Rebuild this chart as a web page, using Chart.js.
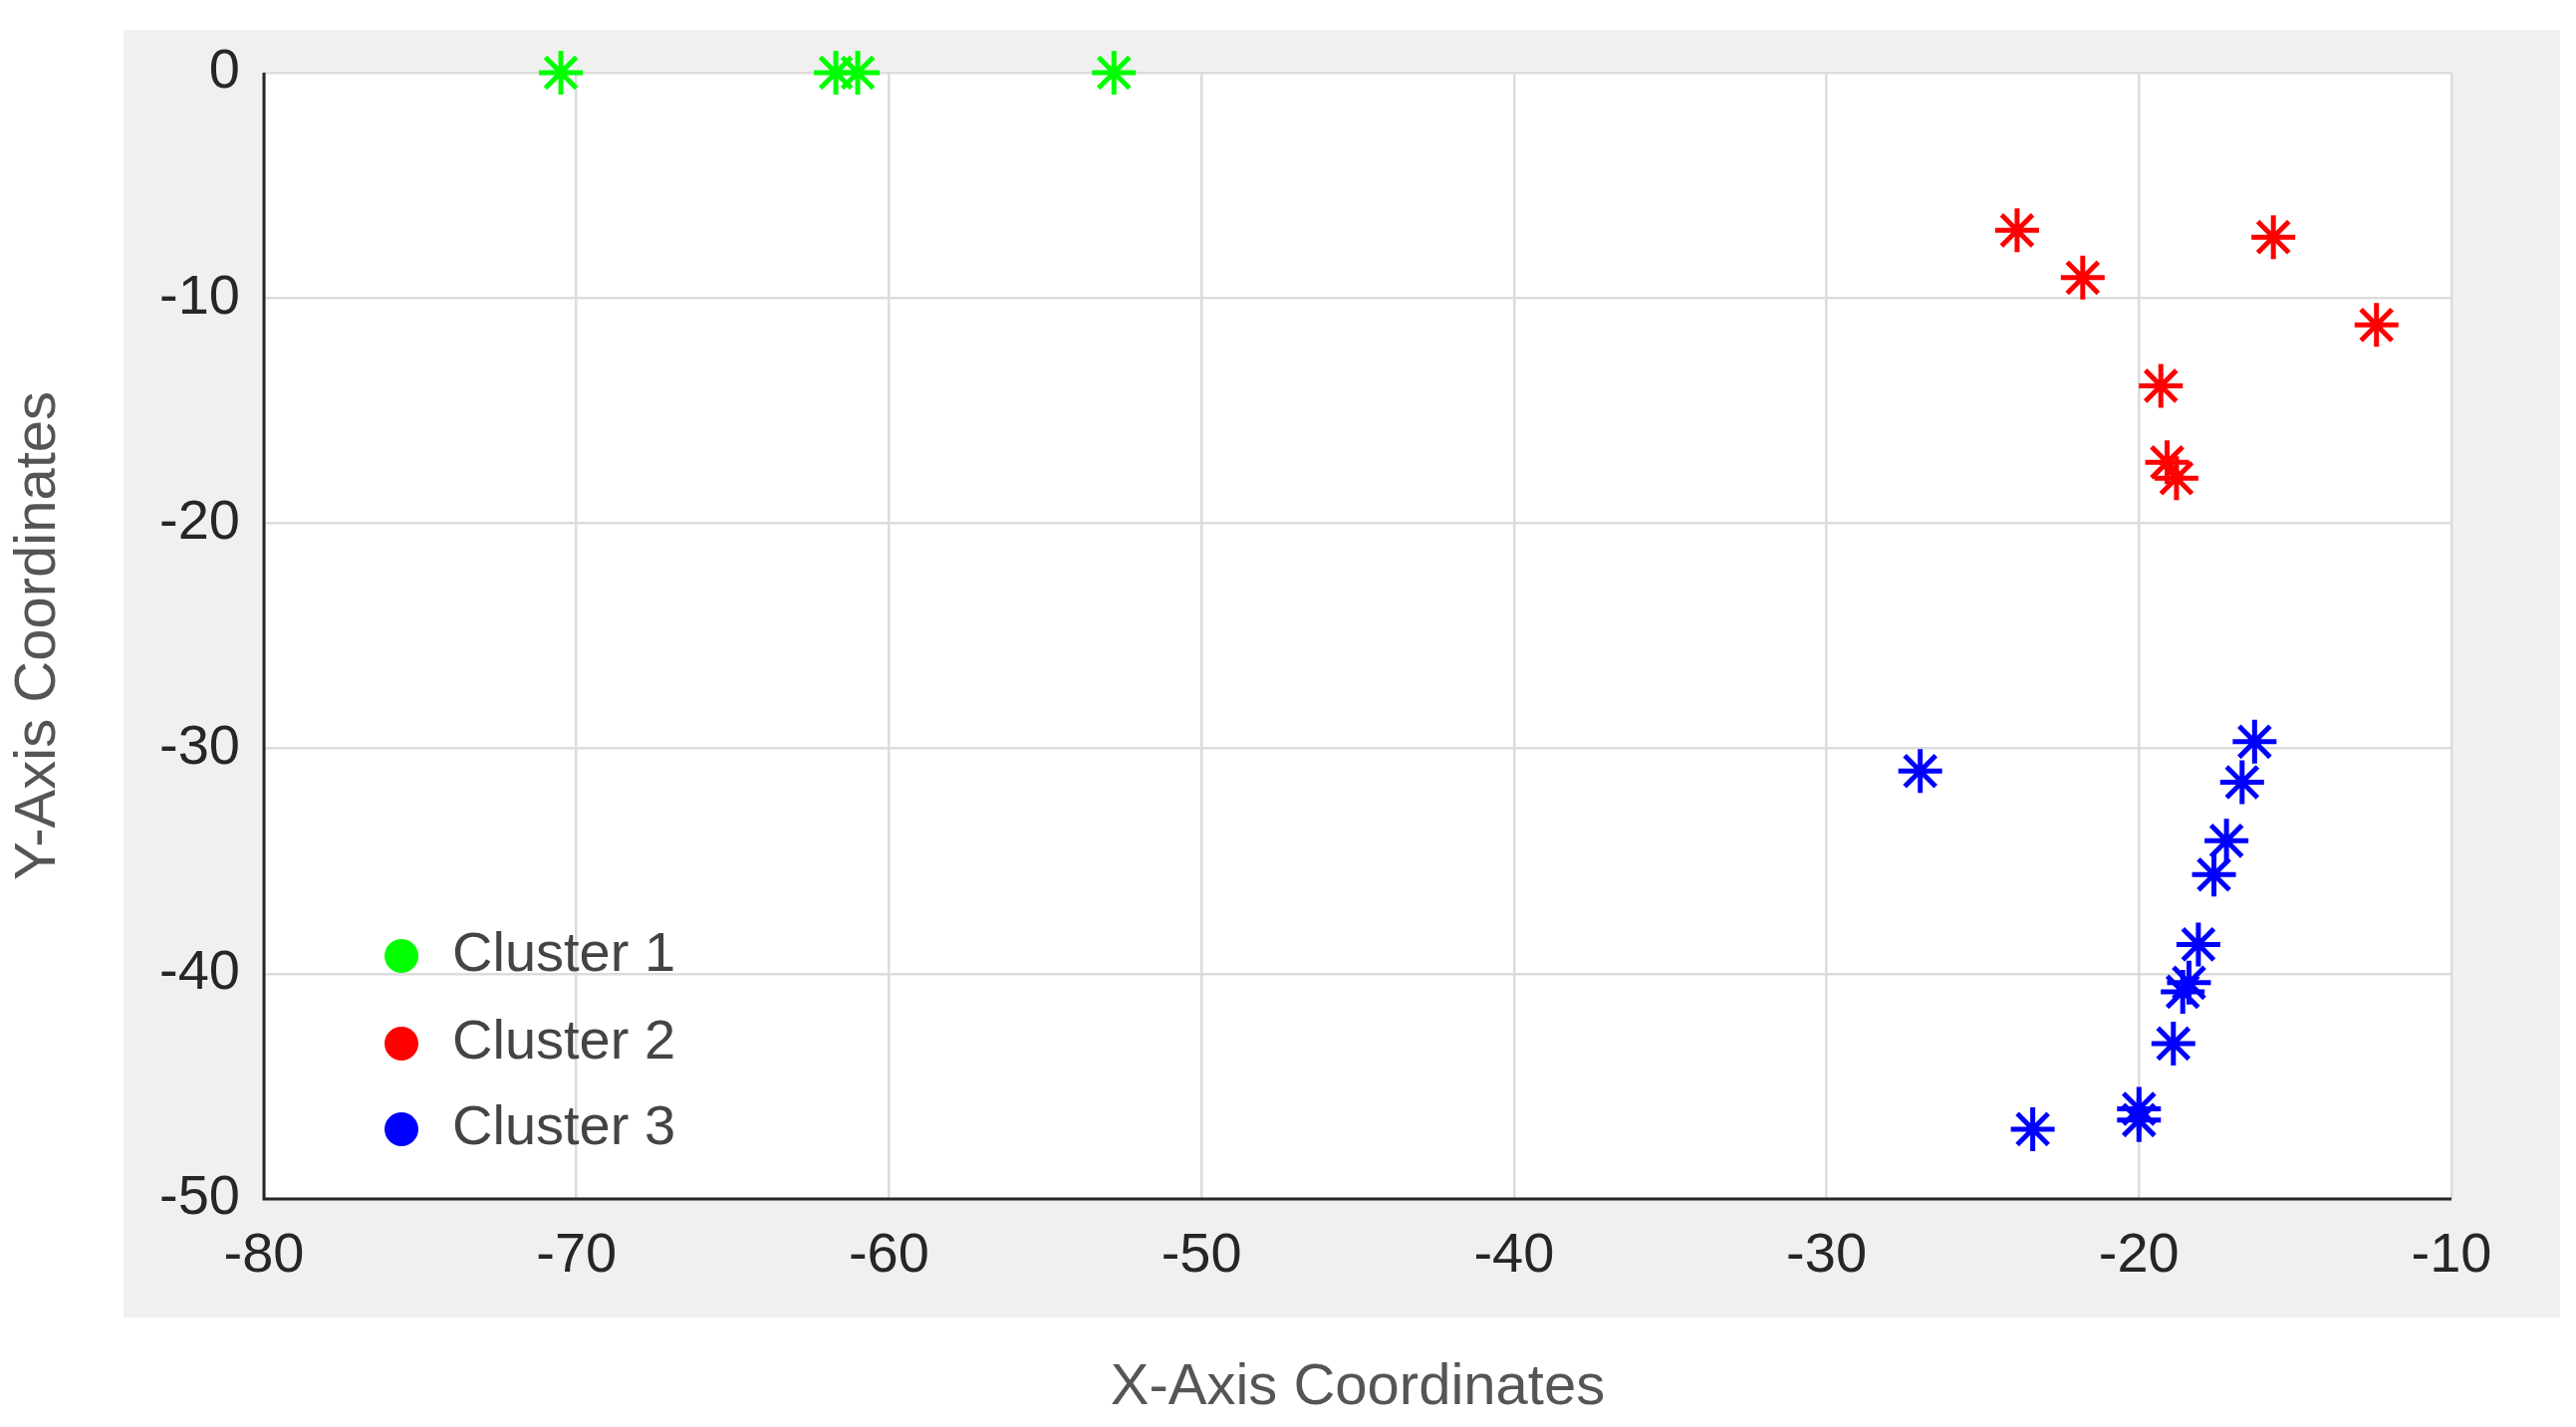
<!DOCTYPE html>
<html>
<head>
<meta charset="utf-8">
<script src="https://cdn.jsdelivr.net/npm/chart.js@4"></script>
<style>
  html, body { margin: 0; padding: 0; background: #fff; }
  #wrap { width: 2586px; height: 1433px; }
</style>
</head>
<body>
<div id="wrap"><canvas id="c"></canvas></div>
<script>
// data
const cluster1X = [-70.5, -61.7, -61.0, -52.8];
const cluster1Y = [0, 0, 0, 0];
const cluster2X = [-23.9, -21.8, -15.7, -12.4, -19.3, -19.1, -18.8];
const cluster2Y = [-7.0, -9.1, -7.3, -11.2, -13.9, -17.3, -18.0];
const cluster3X = [-27.0, -16.3, -16.7, -17.2, -17.6, -18.1, -18.4, -18.6, -18.9, -20.0, -20.0, -23.4];
const cluster3Y = [-31.0, -29.7, -31.5, -34.1, -35.6, -38.7, -40.4, -40.8, -43.1, -46.0, -46.5, -46.9];
const xTicks = [-80, -70, -60, -50, -40, -30, -20, -10];
const yTicks = [0, -10, -20, -30, -40, -50];
const labels = ['Cluster 1', 'Cluster 2', 'Cluster 3'];
const colors = ['#00ff00', '#ff0000', '#0000ff'];

function pts(xs, ys) { return xs.map((x, i) => ({ x: x, y: ys[i] })); }

const bgPlugin = {
  id: 'bg',
  beforeDraw(chart) {
    const ctx = chart.ctx, a = chart.chartArea;
    ctx.save();
    ctx.fillStyle = '#f0f0f0';
    ctx.fillRect(124, 30, 2446, 1293);
    ctx.fillStyle = '#ffffff';
    ctx.fillRect(a.left, a.top, a.right - a.left, a.bottom - a.top);
    ctx.restore();
  },
  afterDraw(chart) {
    const ctx = chart.ctx, a = chart.chartArea;
    ctx.save();
    // black axis lines left/bottom
    ctx.strokeStyle = '#262626';
    ctx.lineWidth = 3;
    ctx.beginPath();
    ctx.moveTo(a.left, a.top); ctx.lineTo(a.left, a.bottom); ctx.lineTo(a.right, a.bottom);
    ctx.stroke();
    // legend
    const ly = [960, 1048, 1134];
    ctx.font = '56px "Liberation Sans", Arial, sans-serif';
    ctx.textBaseline = 'middle';
    labels.forEach((l, i) => {
      ctx.fillStyle = colors[i];
      ctx.beginPath(); ctx.arc(403, ly[i], 17, 0, Math.PI * 2); ctx.fill();
      ctx.fillStyle = '#444';
      ctx.fillText(l, 454, ly[i]);
    });
    ctx.restore();
  }
};

const mk = (xs, ys, i) => ({
  label: labels[i],
  data: pts(xs, ys),
  clip: false,
  pointStyle: 'star',
  pointRadius: 22,
  pointBorderWidth: 5,
  borderColor: colors[i],
  backgroundColor: colors[i]
});

new Chart(document.getElementById('c'), {
  type: 'scatter',
  data: {
    datasets: [mk(cluster1X, cluster1Y, 0), mk(cluster2X, cluster2Y, 1), mk(cluster3X, cluster3Y, 2)]
  },
  options: {
    responsive: true,
    maintainAspectRatio: false,
    animation: false,
    layout: { padding: { top: 73, right: 125, left: 0, bottom: 0 } },
    plugins: { legend: { display: false }, tooltip: { enabled: false } },
    scales: {
      x: {
        min: -80, max: -10,
        afterBuildTicks(s) { s.ticks = xTicks.map(v => ({ value: v })); },
        afterFit(s) { s.height = 229; },
        grid: { color: '#dcdcdc', lineWidth: 2.5, drawTicks: false },
        border: { display: false },
        ticks: { color: '#262626', padding: 24, font: { size: 56, family: '"Liberation Sans", Arial' } },
        title: { display: true, text: 'X-Axis Coordinates', color: '#555', padding: { top: 50 },
                 font: { size: 58, family: '"Liberation Sans", Arial' } }
      },
      y: {
        min: -50, max: 0,
        afterBuildTicks(s) { s.ticks = yTicks.map(v => ({ value: v })); },
        afterFit(s) { s.width = 265; },
        grid: { color: '#dcdcdc', lineWidth: 2.5, drawTicks: false },
        border: { display: false },
        ticks: { color: '#262626', padding: 24, font: { size: 56, family: '"Liberation Sans", Arial' } },
        title: { display: true, text: 'Y-Axis Coordinates', color: '#555', padding: { bottom: 10 },
                 font: { size: 58, family: '"Liberation Sans", Arial' } }
      }
    }
  },
  plugins: [bgPlugin]
});
</script>
</body>
</html>
